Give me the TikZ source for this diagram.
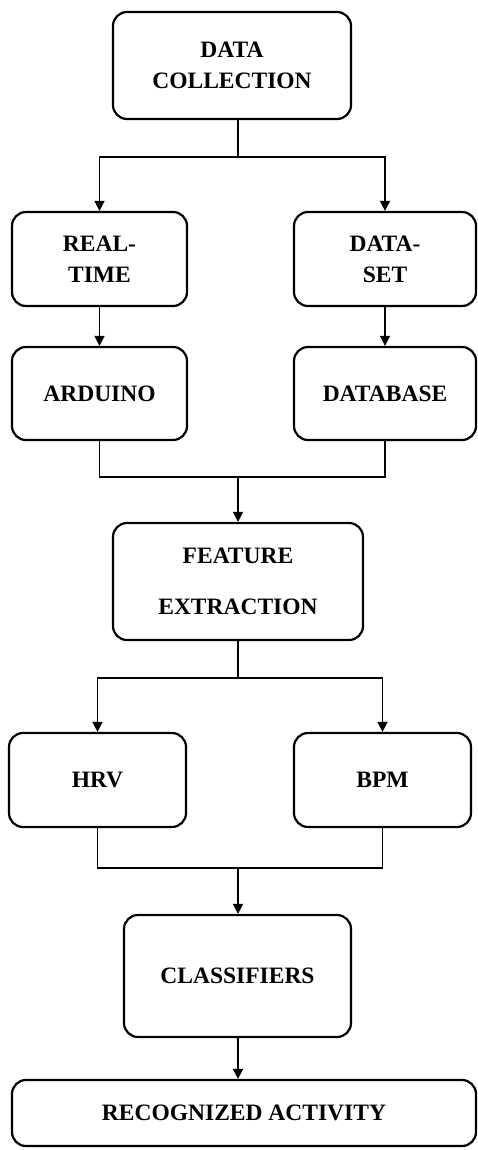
\documentclass[tikz,border=0pt]{standalone}
\usepackage{fontspec}
\setmainfont{Liberation Serif}
\usepackage{tikz}
\usetikzlibrary{arrows.meta,positioning,calc}

\begin{document}
\begin{tikzpicture}[
	x=1pt, y=-1pt,
	stagebox/.style={
		rectangle,
		rounded corners=14pt,
		draw=black,
		line width=2.2pt,
		fill=white,
		align=center,
		inner sep=0pt,
		font=\fontsize{23.5}{31}\selectfont\bfseries
	},
	link/.style={
		line width=1.5pt,
		color=black
	},
	arrow/.style={
		-{Triangle[length=10pt,width=10pt]},
		line width=1.5pt,
		color=black
	}
	]
	
	\useasboundingbox (0,0) rectangle (477,1150);
	
	% Boxes
	\node[stagebox, minimum width=238pt, minimum height=107pt] (collect) at (232,65.5) {DATA\\COLLECTION};
	\node[stagebox, minimum width=175pt, minimum height=94pt] (realtime) at (99.5,259) {REAL-\\TIME};
	\node[stagebox, minimum width=182pt, minimum height=94pt] (dataset) at (385,259) {DATA-\\SET};
	\node[stagebox, minimum width=175pt, minimum height=93pt] (arduino) at (99.5,393.5) {ARDUINO};
	\node[stagebox, minimum width=182pt, minimum height=93pt] (database) at (385,393.5) {DATABASE};
	\node[stagebox, minimum width=250pt, minimum height=117pt] (feature) at (238,581.5) {FEATURE\\[20pt]EXTRACTION};
	\node[stagebox, minimum width=177pt, minimum height=94pt] (hrv) at (97.5,780) {HRV};
	\node[stagebox, minimum width=177pt, minimum height=94pt] (bpm) at (382.5,780) {BPM};
	\node[stagebox, minimum width=227pt, minimum height=122pt] (classif) at (237.5,976) {CLASSIFIERS};
	\node[stagebox, minimum width=464pt, minimum height=66pt] (activity) at (244,1113) {RECOGNIZED ACTIVITY};
	
	% Junctions
	\coordinate (split1) at (238,157);
	\coordinate (merge1) at (238,477);
	\coordinate (split2) at (238,678);
	\coordinate (merge2) at (238,868);
	
	% Data collection split
	\draw[link] (collect.south -| split1) -- (split1);
	\draw[arrow] (split1) -| (realtime.north);
	\draw[arrow] (split1) -| (dataset.north);
	\draw[arrow] (realtime) -- (arduino);
	\draw[arrow] (dataset) -- (database);
	
	% Merge to feature extraction
	\draw[link] (arduino.south) |- (merge1) -| (database.south);
	\draw[arrow] (merge1) -- (feature.north -| merge1);
	
	% Feature split
	\draw[link] (feature.south) -- (split2);
	\draw[arrow] (split2) -| (hrv.north);
	\draw[arrow] (split2) -| (bpm.north);
	
	% Merge to classifiers
	\draw[link] (hrv.south) |- (merge2) -| (bpm.south);
	\draw[arrow] (merge2) -- (classif.north -| merge2);
	\draw[arrow] (classif.south -| merge2) -- (activity.north -| merge2);
	
\end{tikzpicture}
\end{document}
